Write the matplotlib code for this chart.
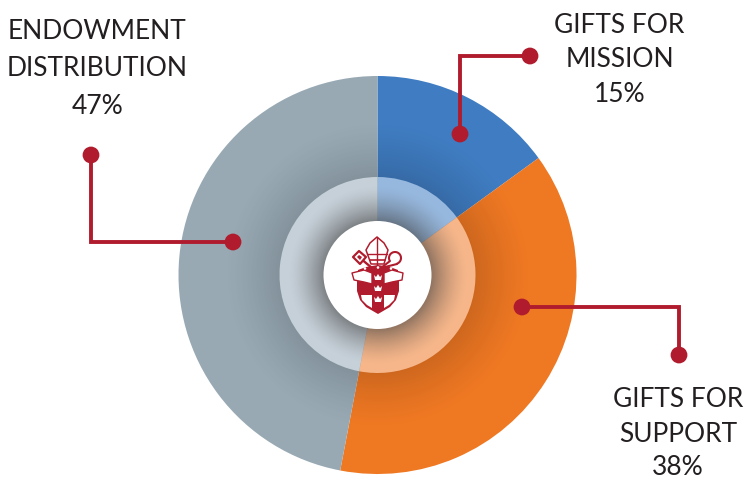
import numpy as np
import matplotlib
matplotlib.use('Agg')
import matplotlib.pyplot as plt
from matplotlib.patches import Circle, Polygon

plt.rcParams['font.family'] = ['Lato', 'DejaVu Sans']

# data
line_one = ['GIFTS FOR', 'GIFTS FOR', 'ENDOWMENT']
line_two = ['MISSION', 'SUPPORT', 'DISTRIBUTION']
shares = [15, 38, 47]
colors = ['#3F7CC1', '#EF7823', '#98A9B4']
light_colors = ['#97B8DE', '#F6B68A', '#C6D0D8']

W, H = 747, 480
RED = '#B01C2E'
cx, cy = 377.5, 480 - 275
R, R_mid, R_in = 199, 98, 54


def Y(py):
    # picture rows to axes y
    return H - py


def poly(ax, pts, fc=RED, ec='none', lw=0, z=6):
    p = Polygon([(x, Y(y)) for x, y in pts], fc=fc, ec=ec, lw=lw, zorder=z, joinstyle='round')
    ax.add_patch(p)
    return p


def stroke(ax, pts, lw=1.2, color=RED, z=7):
    ax.plot([p[0] for p in pts], [Y(p[1]) for p in pts], color=color, lw=lw, zorder=z,
            solid_capstyle='round')


fig = plt.figure(figsize=(W / 100, H / 100), dpi=100)
ax = fig.add_axes([0, 0, 1, 1])

ax.pie(shares, colors=colors, center=(cx, cy), radius=R, startangle=90,
       counterclock=False, frame=True, wedgeprops={'linewidth': 0})

# soft shadow in outer ring
n = 800
xs = np.linspace(cx - R, cx + R, n)
ys = np.linspace(cy - R, cy + R, n)
xx, yy = np.meshgrid(xs, ys)
rr = np.hypot(xx - cx, yy - cy)
a = np.clip((155 - rr) / (155 - R_mid), 0, 1) ** 1.4 * 0.14
rgba = np.zeros((n, n, 4))
rgba[..., 3] = a
im = ax.imshow(rgba, extent=(cx - R, cx + R, cy - R, cy + R), origin='lower',
               zorder=2, interpolation='bilinear')
im.set_clip_path(Circle((cx, cy), R - 0.5, transform=ax.transData))

# light inner ring
ax.pie(shares, colors=light_colors, center=(cx, cy), radius=R_mid, startangle=90,
       counterclock=False, frame=True, wedgeprops={'linewidth': 0, 'zorder': 3})

a2 = np.clip((90 - rr) / (90 - R_in), 0, 1) ** 1.5 * 0.55
rgba2 = np.zeros((n, n, 4))
rgba2[..., :3] = 0.25
rgba2[..., 3] = a2
im2 = ax.imshow(rgba2, extent=(cx - R, cx + R, cy - R, cy + R), origin='lower',
                zorder=4, interpolation='bilinear')
im2.set_clip_path(Circle((cx, cy), R_mid, transform=ax.transData))

ax.add_patch(Circle((cx, cy), R_in, fc='white', ec='none', zorder=5))

# crest: shield
shield = [(357, 276), (399, 276), (399, 291), (396, 300), (390, 307), (378, 314),
          (366, 307), (360, 300), (357, 291)]
poly(ax, shield)
poly(ax, [(361, 295), (372, 295), (372, 308), (367, 305), (362, 300)], fc='white', z=7)
poly(ax, [(395, 295), (384, 295), (384, 308), (389, 305), (394, 300)], fc='white', z=7)
# band and ribbon ends
poly(ax, [(358, 270), (366, 267), (378, 265), (390, 267), (398, 270), (398, 276), (358, 276)])
poly(ax, [(352, 273), (364, 270), (372, 273), (372, 284), (364, 282), (354, 280)], fc='white', ec=RED, lw=1.0, z=7)
poly(ax, [(403, 273), (392, 270), (384, 273), (384, 284), (392, 282), (402, 280)], fc='white', ec=RED, lw=1.0, z=7)
for bx, by in [(365, 268.5), (378, 267.5), (391, 268.5)]:
    ax.add_patch(Circle((bx, Y(by)), 1.3, fc='white', ec='none', zorder=8))
# crowns and the red column behind them
poly(ax, [(372, 270), (384, 270), (384, 295), (372, 295)], z=7)
for px, py in [(378, 278), (378, 289), (378, 300)]:
    poly(ax, [(px - 4, py - 3), (px - 2, py - 1), (px, py - 4), (px + 2, py - 1),
              (px + 4, py - 3), (px + 3, py + 2), (px - 3, py + 2)], fc='white', z=8)
# mitre
poly(ax, [(371, 264), (366, 250), (370, 243), (377, 237), (384, 243), (388, 250), (384, 264)],
     fc='white', ec=RED, lw=1.1)
stroke(ax, [(377, 237), (377, 265)], lw=1.0)
stroke(ax, [(367, 254), (387, 254)], lw=1.0)
stroke(ax, [(370, 260), (385, 260)], lw=1.2)
# key
stroke(ax, [(360, 258), (372, 268)], lw=1.7)
poly(ax, [(353, 257), (359, 251), (366, 257), (360, 264)], fc='white', ec=RED, lw=1.6, z=7)
poly(ax, [(357, 257), (359, 255), (362, 257), (360, 260)], z=8)
# crozier
t = np.radians(np.linspace(-200, 70, 30))
stroke(ax, list(zip(395 + 6 * np.cos(t), 258 + 6 * np.sin(t))), lw=1.5)
stroke(ax, [(397, 264), (381, 268)], lw=1.5)
stroke(ax, [(390, 261), (381, 268)], lw=1.5)

# leader lines
leaders = [
    [(530, 56), (460, 56), (460, 134)],
    [(522, 307), (679, 307), (679, 355)],
    [(91, 155), (91, 242), (233, 242)],
]
for pts in leaders:
    lx = [p[0] for p in pts]
    ly = [Y(p[1]) for p in pts]
    ax.plot(lx, ly, color=RED, lw=2.8, zorder=8, solid_joinstyle='miter')
    for i in (0, -1):
        ax.add_patch(Circle((lx[i], ly[i]), 8.4, fc=RED, ec='none', zorder=9))

# labels, one baseline per row
centers = [619.5, 678, 97.5]
baselines = [(33, 67, 102), (407, 442, 475), (39, 76, 114)]
for a1, a3, share, tx, rows in zip(line_one, line_two, shares, centers, baselines):
    for txt, by in zip((a1, a3, f'{share}%'), rows):
        ax.text(tx, Y(by), txt, ha='center', va='baseline', fontsize=19,
                color='#231F20', zorder=10)

ax.set_xlim(0, W)
ax.set_ylim(0, H)
ax.set_aspect('equal')
ax.axis('off')
fig.savefig('out.png', dpi=100)
